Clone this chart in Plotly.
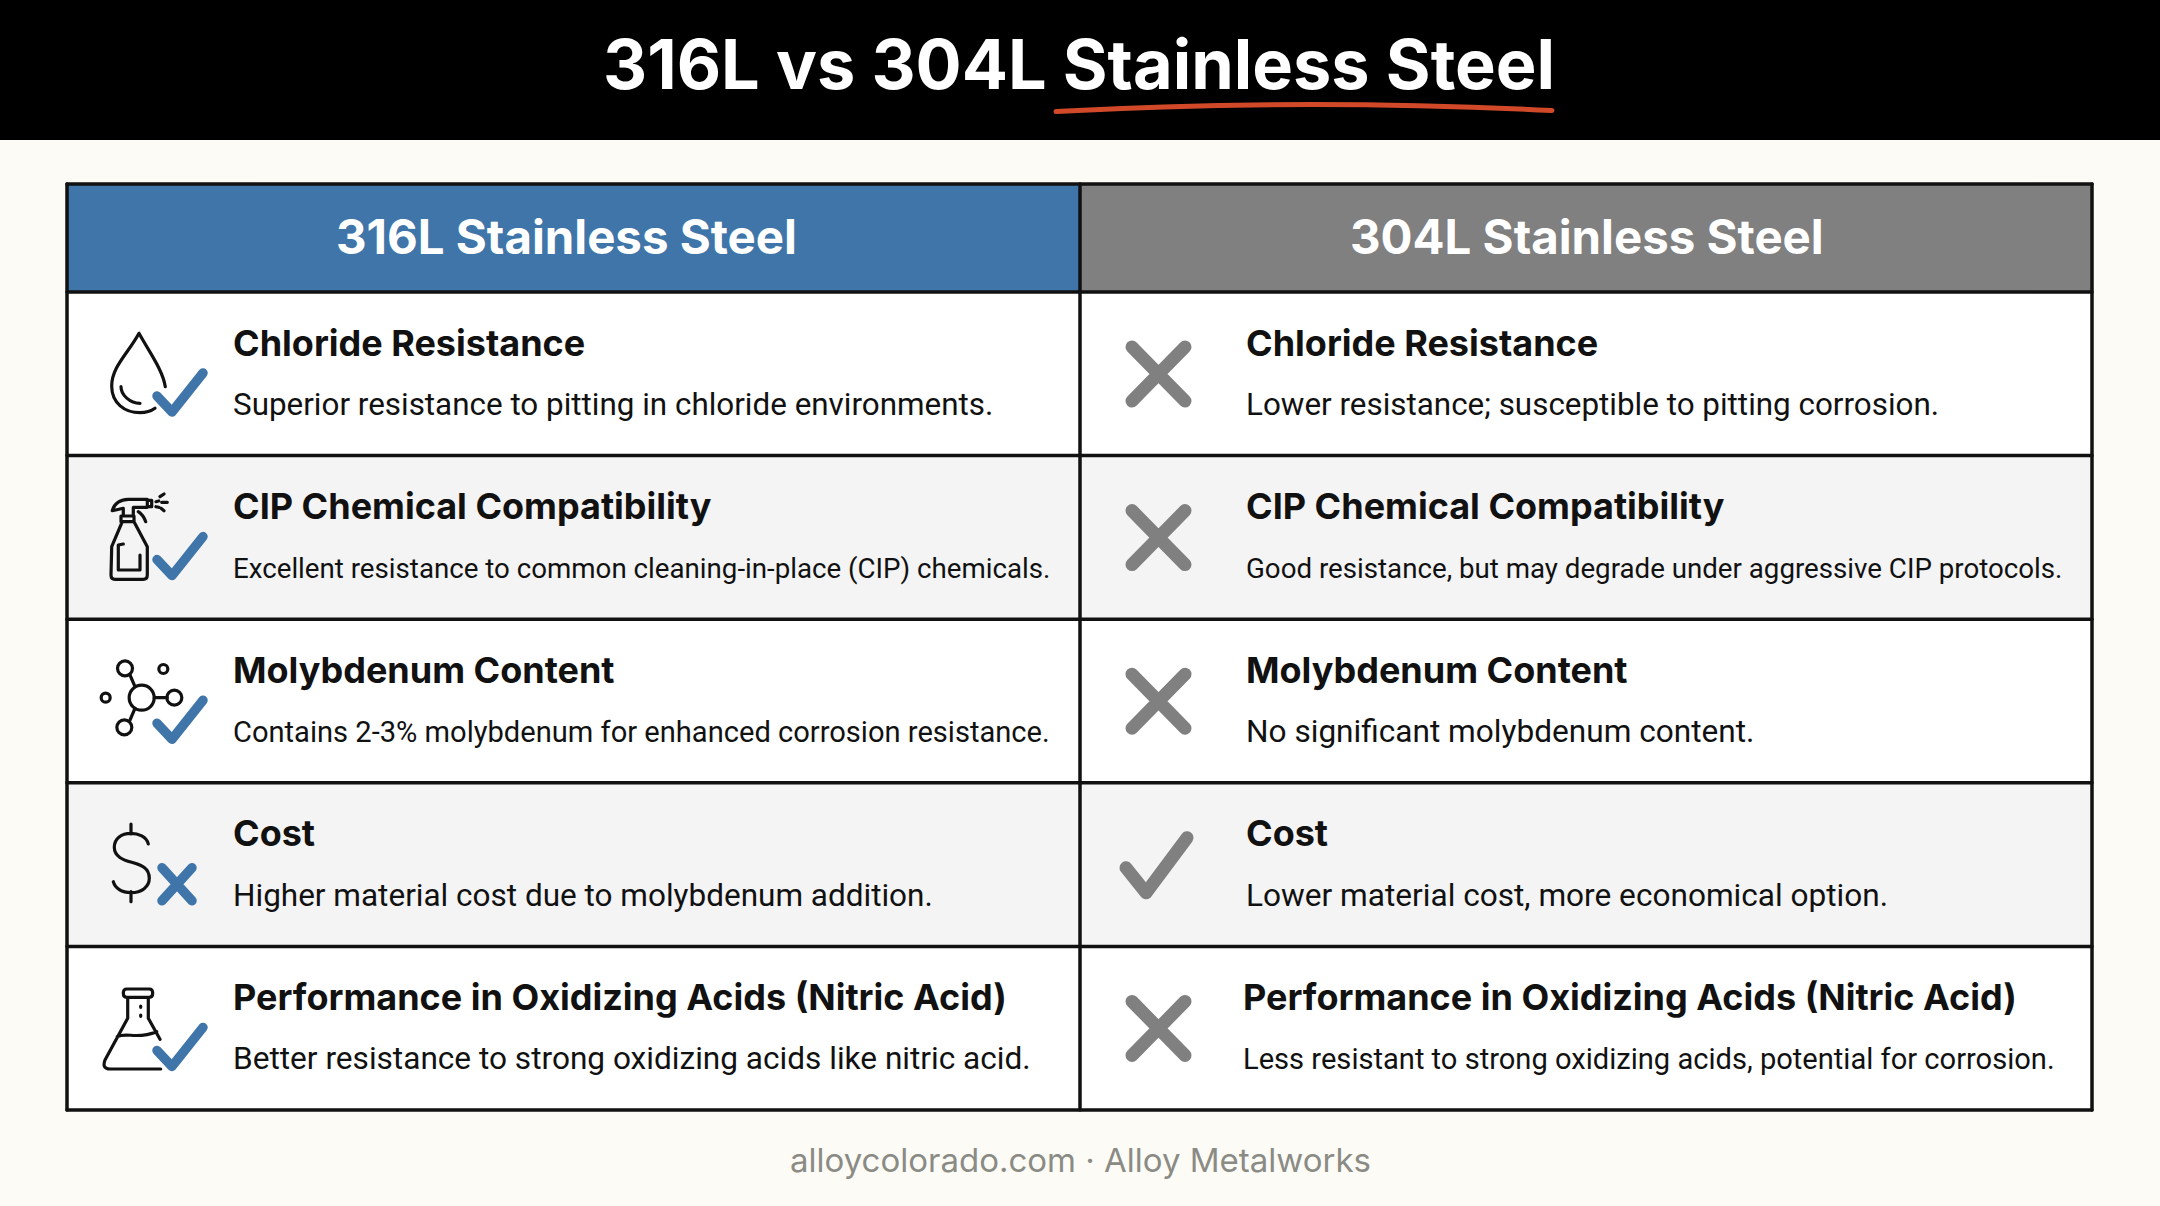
import re
import plotly.graph_objects as go

title_text = "316L vs 304L Stainless Steel"
column_heads = ["316L Stainless Steel", "304L Stainless Steel"]
row_titles = ["Chloride Resistance", "CIP Chemical Compatibility", "Molybdenum Content", "Cost",
              "Performance in Oxidizing Acids (Nitric Acid)"]
left_desc = ["Superior resistance to pitting in chloride environments.",
             "Excellent resistance to common cleaning-in-place (CIP) chemicals.",
             "Contains 2-3% molybdenum for enhanced corrosion resistance.",
             "Higher material cost due to molybdenum addition.",
             "Better resistance to strong oxidizing acids like nitric acid."]
right_desc = ["Lower resistance; susceptible to pitting corrosion.",
              "Good resistance, but may degrade under aggressive CIP protocols.",
              "No significant molybdenum content.",
              "Lower material cost, more economical option.",
              "Less resistant to strong oxidizing acids, potential for corrosion."]
left_marks = ["check", "check", "check", "cross", "check"]
right_marks = ["cross", "cross", "cross", "check", "cross"]
footer_text = "alloycolorado.com · Alloy Metalworks"

BLUE = "#3f75a9"
GREY = "#808080"
INK = "#111111"
HEAD_FONT = "Inter"
BODY_FONT = "Roboto"
# the long lines are set tighter in the original
left_sizes = [31.4, 27.7, 29.1, 31.5, 31.6]
right_sizes = [31.4, 27.7, 31.6, 31.6, 29.1]

left, mid, right = 67, 1080, 2092
top, head_bottom, row_h = 184, 292, 163.6

shapes = []
annotations = []


def rect(x0, y0, x1, y1, color):
    shapes.append(dict(type="rect", x0=x0, y0=y0, x1=x1, y1=y1, fillcolor=color, line=dict(width=0)))


def hline(y, width=3.5):
    shapes.append(dict(type="line", x0=left, x1=right, y0=y, y1=y, line=dict(color=INK, width=width)))


def stroke(d, color=INK, width=3.2):
    shapes.append(dict(type="path", path=d, line=dict(color=color, width=width)))


def circle(cx, cy, r, width=3.2):
    shapes.append(dict(type="circle", x0=cx - r, x1=cx + r, y0=cy - r, y1=cy + r,
                       line=dict(color=INK, width=width)))


def zoomed(d, ox, oy):
    # icon outlines were traced on 3x crops, this puts them back on the page
    nums = iter(range(10000))

    def conv(m):
        v = float(m.group())
        return f"{(ox if next(nums) % 2 == 0 else oy) + v / 3:.1f}"
    return re.sub(r"\d+(\.\d+)?", conv, d)


def text(x, y, s, size, color=INK, font=BODY_FONT, weight=400, anchor="left"):
    annotations.append(dict(x=x, y=y, xref="x", yref="y", text=s, showarrow=False, xanchor=anchor, yanchor="middle",
                            font=dict(family=font, size=size, color=color, weight=weight)))


def draw_mark(kind, side, row_top):
    if side == 0:
        color, width = BLUE, 9.5
        if kind == "check":
            stroke(f"M 157 {row_top + 104} L 172 {row_top + 120} L 203 {row_top + 81}", color, width)
        else:
            stroke(f"M 162 {row_top + 85} L 192 {row_top + 118} M 192 {row_top + 85} L 162 {row_top + 118}", color, width)
    else:
        color, width = GREY, 13
        if kind == "check":
            stroke(f"M 1126 {row_top + 85} L 1146 {row_top + 110} L 1187 {row_top + 55}", color, width)
        else:
            stroke(f"M 1132 {row_top + 55} L 1185 {row_top + 109} M 1185 {row_top + 55} L 1132 {row_top + 109}", color, width)


rect(0, 0, 2160, 140, "#000000")
rect(left, top, mid, head_bottom, BLUE)
rect(mid, top, right, head_bottom, GREY)
for i in range(5):
    y0 = head_bottom + i * row_h
    rect(left, y0, right, y0 + row_h, "#f4f4f5" if i % 2 else "#ffffff")

# table grid
hline(top)
hline(head_bottom)
for i in range(1, 6):
    hline(head_bottom + i * row_h)
bottom = head_bottom + 5 * row_h
for x in (left, mid, right):
    shapes.append(dict(type="line", x0=x, x1=x, y0=top, y1=bottom, line=dict(color=INK, width=3.5)))

# underline below the second half of the title
stroke("M 1056 111.5 Q 1300 98 1552 110.5", "#d2492a", 5)

# row icons
stroke(zoomed("M 316 290 C 308 240 270 190 237 130 C 205 190 155 230 155 288 C 155 340 195 368 240 368 C 260 368 275 362 285 355", 60, 290))
stroke(zoomed("M 183 290 C 183 315 210 340 240 340", 60, 290))

stroke(zoomed("M 157 662 Q 165 630 205 628 L 262 628 L 262 652 L 220 652 L 220 678 M 157 662 L 190 655 L 190 678 "
              "M 262 631 L 275 631 L 275 650 L 262 650 M 183 678 L 222 678 L 222 695 L 183 695 L 183 678 "
              "M 235 665 Q 250 675 257 695 M 187 695 L 155 770 L 153 855 Q 153 868 165 868 L 250 868 Q 262 868 262 855 "
              "L 262 770 L 222 695 M 190 762 L 175 765 L 175 840 L 240 840 L 240 795 "
              "M 300 620 L 312 612 M 288 635 L 296 633 M 305 637 L 322 637 M 288 650 L 296 652 M 303 655 L 312 662", 60, 290))

circle(60 + 245 / 3, 620 + 233 / 3, 12.5)
circle(60 + 195 / 3, 620 + 145 / 3, 7.5)
circle(60 + 343 / 3, 620 + 233 / 3, 7.5)
circle(60 + 193 / 3, 620 + 322 / 3, 7.5)
circle(60 + 310 / 3, 620 + 147 / 3, 4.5)
circle(60 + 137 / 3, 620 + 233 / 3, 4.5)
stroke(zoomed("M 210 165 L 225 200 M 283 233 L 322 233 M 210 300 L 225 265", 60, 620))

stroke(zoomed("M 265 672 C 260 650 235 640 212 640 C 185 640 163 655 163 682 C 163 710 190 720 215 727 "
              "C 245 735 268 745 268 775 C 268 800 245 818 213 818 C 185 818 165 805 160 785 "
              "M 213 612 L 213 642 M 213 815 L 213 845", 60, 620))

stroke(zoomed("M 200 1107 L 268 1107 Q 278 1107 278 1119 Q 278 1132 268 1132 L 200 1132 Q 190 1132 190 1119 Q 190 1107 200 1107 "
              "M 203 1132 L 203 1195 L 135 1320 Q 125 1347 150 1347 L 302 1347 "
              "M 265 1132 L 265 1195 L 300 1258 M 172 1250 C 200 1235 230 1260 290 1235 "
              "M 242 1158 L 242 1162 M 242 1185 L 242 1189", 60, 620))

for i in range(5):
    row_top = head_bottom + i * row_h
    draw_mark(left_marks[i], 0, row_top)
    draw_mark(right_marks[i], 1, row_top)
    right_x = 1241 if i == 4 else 1243.5
    text(230.5, row_top + 50.5, row_titles[i], 36, font=HEAD_FONT, weight=700)
    text(right_x, row_top + 50.5, row_titles[i], 36, font=HEAD_FONT, weight=700)
    text(230.5, row_top + 112.5, left_desc[i], left_sizes[i])
    text(right_x, row_top + 112.5, right_desc[i], right_sizes[i])

text(1079, 64, title_text, 68.4, color="#ffffff", font=HEAD_FONT, weight=700, anchor="center")
text(566, 236.5, column_heads[0], 47.4, color="#ffffff", font=HEAD_FONT, weight=700, anchor="center")
text(1587, 236.5, column_heads[1], 47.4, color="#ffffff", font=HEAD_FONT, weight=700, anchor="center")
text(1080, 1160, footer_text, 33, color="#8b8b86", font=HEAD_FONT, anchor="center")

fig = go.Figure()
fig.update_layout(width=2160, height=1206, margin=dict(l=0, r=0, t=0, b=0),
                  paper_bgcolor="#fdfbf5", plot_bgcolor="#fdfbf5", showlegend=False,
                  xaxis=dict(range=[0, 2160], visible=False),
                  yaxis=dict(range=[1206, 0], visible=False),
                  shapes=shapes, annotations=annotations)

fix_page = """
document.body.style.margin = '0';
document.querySelectorAll('.shapelayer path').forEach(function (p) {
    p.style.strokeLinecap = 'round';
    p.style.strokeLinejoin = 'round';
});
"""
fig.write_html("out.html", post_script=fix_page, config=dict(displayModeBar=False))
